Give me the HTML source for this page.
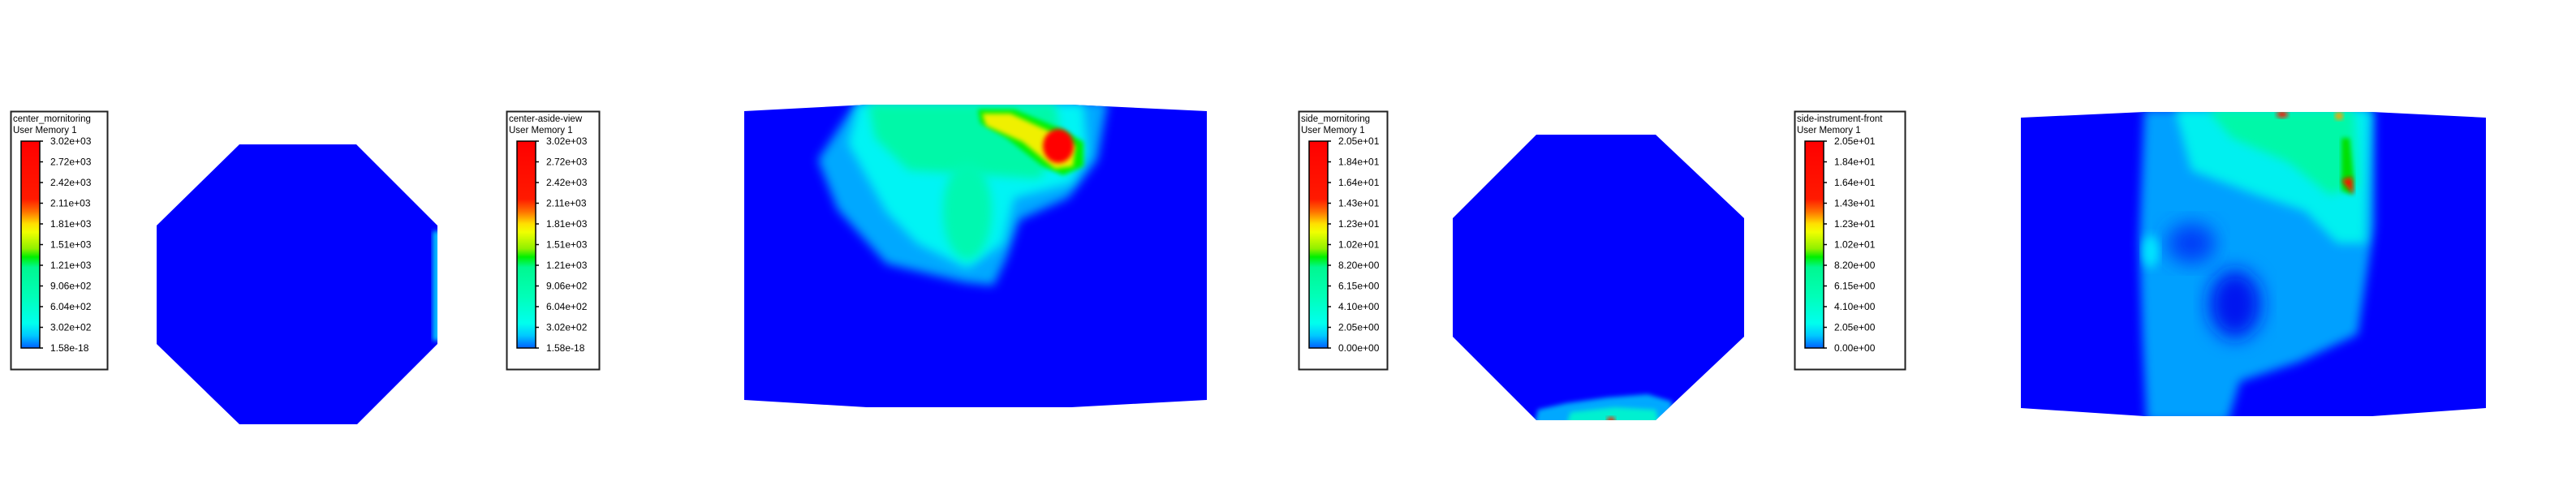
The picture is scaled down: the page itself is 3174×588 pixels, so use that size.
<!DOCTYPE html>
<html><head><meta charset="utf-8">
<style>
html,body{margin:0;padding:0;background:#fff;}
body{width:3174px;height:588px;position:relative;overflow:hidden;font-family:"Liberation Sans",sans-serif;}
svg{position:absolute;left:0;top:0;}
</style></head>
<body>
<svg id="chart" width="3174" height="588" viewBox="0 0 3174 588">
<defs>
<linearGradient id="cbar" x1="0" y1="0" x2="0" y2="1">
<stop offset="0" stop-color="#ff0000"/>
<stop offset="0.28" stop-color="#ff1a00"/>
<stop offset="0.34" stop-color="#ff7000"/>
<stop offset="0.40" stop-color="#ffe000"/>
<stop offset="0.44" stop-color="#f0ff00"/>
<stop offset="0.52" stop-color="#90f000"/>
<stop offset="0.56" stop-color="#00f000"/>
<stop offset="0.61" stop-color="#00f890"/>
<stop offset="0.75" stop-color="#00ffb8"/>
<stop offset="0.88" stop-color="#00ffee"/>
<stop offset="0.94" stop-color="#00c8ff"/>
<stop offset="1" stop-color="#0060ff"/>
</linearGradient>
<filter id="bl" x="-20%" y="-20%" width="140%" height="140%"><feGaussianBlur stdDeviation="6"/></filter>
<filter id="bl3" x="-30%" y="-30%" width="160%" height="160%"><feGaussianBlur stdDeviation="12"/></filter>
<filter id="bl2" x="-20%" y="-20%" width="140%" height="140%"><feGaussianBlur stdDeviation="3"/></filter>
<clipPath id="c2"><polygon points="917,137 1068,129 1320,129 1487,137 1487,493 1320,502 1068,502 917,493"/></clipPath>
<clipPath id="c3"><polygon points="1893,166 2040,166 2149,269 2149,415 2040,518 1893,518 1790,415 1790,269"/></clipPath>
<clipPath id="c4"><polygon points="2490,145 2642,138 2923,138 3063,145 3063,503 2923,513 2642,513 2490,503"/></clipPath>
<clipPath id="c1"><polygon points="295,178 439,178 539,278 539,424 440,523 295,523 193,424 193,278"/></clipPath>
</defs>
<g id="legends"></g>

<g>
<polygon points="295,178 439,178 539,278 539,424 440,523 295,523 193,424 193,278" fill="#0000ff"/>
<g clip-path="url(#c1)"><rect x="533" y="285" width="10" height="135" fill="#00c0ff" filter="url(#bl2)"/></g>
</g>

<g>
<polygon points="917,137 1068,129 1320,129 1487,137 1487,493 1320,502 1068,502 917,493" fill="#0000ff"/>
<g clip-path="url(#c2)">
<polygon filter="url(#bl)" fill="#00a8ff" points="1055,125 1365,125 1352,197 1316,244 1256,271 1240,318 1224,352 1188,348 1092,325 1068,298 1032,258 1008,197"/>
<polygon filter="url(#bl)" fill="#00f4f4" points="1058,128 1335,128 1340,190 1320,226 1250,244 1236,300 1192,331 1130,300 1092,261 1045,177"/>
<polygon filter="url(#bl)" fill="#00f8a8" points="1070,128 1300,128 1310,180 1280,220 1200,215 1120,210 1078,170"/>
<ellipse filter="url(#bl)" fill="#00f8b0" cx="1192" cy="260" rx="30" ry="60"/>
<polygon filter="url(#bl2)" fill="#00f000" points="1205,135 1250,135 1310,160 1335,175 1335,205 1310,216 1285,205 1240,170 1208,152"/>
<polygon filter="url(#bl2)" fill="#f0f000" points="1210,140 1245,140 1300,165 1325,180 1322,205 1300,208 1260,175 1215,155"/>
<ellipse filter="url(#bl2)" fill="#ff0000" cx="1304" cy="180" rx="19" ry="21"/>
</g>
</g>

<g>
<polygon points="1893,166 2040,166 2149,269 2149,415 2040,518 1893,518 1790,415 1790,269" fill="#0000ff"/>
<g clip-path="url(#c3)">
<polygon filter="url(#bl2)" fill="#00a8ff" points="1895,505 1930,497 1980,490 2030,486 2060,495 2060,525 1890,525"/>
<polygon filter="url(#bl2)" fill="#00f0d0" points="1935,508 1990,502 2040,505 2045,525 1930,525"/>
<ellipse filter="url(#bl2)" fill="#ff2000" cx="1985" cy="518" rx="5" ry="4"/>
</g>
</g>

<g>
<polygon points="2490,145 2642,138 2923,138 3063,145 3063,503 2923,513 2642,513 2490,503" fill="#0000ff"/>
<g clip-path="url(#c4)">
<polygon filter="url(#bl)" fill="#00a0ff" points="2642,135 2925,135 2925,280 2905,412 2833,446 2760,470 2745,520 2645,520 2640,420 2636,300"/>
<polygon filter="url(#bl)" fill="#00f0f0" points="2680,135 2920,135 2915,300 2880,300 2840,260 2780,240 2700,210"/>
<polygon filter="url(#bl)" fill="#00f8a8" points="2720,135 2900,135 2905,230 2870,240 2820,200 2750,170"/>
<ellipse filter="url(#bl3)" fill="#0018f0" cx="2754" cy="375" rx="32" ry="42"/>
<ellipse filter="url(#bl3)" fill="#0040f8" cx="2700" cy="300" rx="30" ry="25"/>
<ellipse filter="url(#bl)" fill="#00e8ff" cx="2650" cy="310" rx="10" ry="20"/>
<polygon filter="url(#bl2)" fill="#00e000" points="2885,170 2895,170 2900,220 2898,240 2885,235"/>
<polygon filter="url(#bl2)" fill="#ff1000" points="2885,222 2898,218 2900,240"/>
<ellipse filter="url(#bl2)" fill="#ff1000" cx="2812" cy="141" rx="7" ry="4"/>
<ellipse filter="url(#bl2)" fill="#ffa000" cx="2882" cy="143" rx="5" ry="5"/>
</g>
</g>
</svg>
<script>
const legendTitles1 = ["center_mornitoring", "center-aside-view", "side_mornitoring", "side-instrument-front"];
const tickLabelsA = ["3.02e+03","2.72e+03","2.42e+03","2.11e+03","1.81e+03","1.51e+03","1.21e+03","9.06e+02","6.04e+02","3.02e+02","1.58e-18"];
const tickLabelsB = ["2.05e+01","1.84e+01","1.64e+01","1.43e+01","1.23e+01","1.02e+01","8.20e+00","6.15e+00","4.10e+00","2.05e+00","0.00e+00"];
const legendTicks = [tickLabelsA, tickLabelsA, tickLabelsB, tickLabelsB];
const boxX = [13, 624, 1600, 2211];
const boxW = [119, 114, 109, 136];
const NS = "http://www.w3.org/2000/svg";
const g = document.getElementById("legends");
function mk(tag, attrs){const e=document.createElementNS(NS,tag);for(const k in attrs)e.setAttribute(k,attrs[k]);return e;}
for (let i=0;i<4;i++){
  const x=boxX[i], y=137, w=boxW[i], h=318;
  const lg=mk("g",{});
  
  
  const box=mk("rect",{x:x+0.5,y:y+0.5,width:w,height:h,fill:"#fff",stroke:"#222","stroke-width":2});
  lg.appendChild(box);
  const t1=mk("text",{x:x+3,y:y+13,"font-size":11.5,fill:"#000"});t1.textContent=legendTitles1[i];
  
  
  lg.appendChild(t1);
  const t2=mk("text",{x:x+3,y:y+27,"font-size":11.5,fill:"#000"});t2.textContent="User Memory 1";
  
  
  lg.appendChild(t2);
  const by=174, bh=255, bx=x+13, bw=23;
  const bar=mk("rect",{x:bx,y:by,width:bw,height:bh,fill:"url(#cbar)",stroke:"#000","stroke-width":1.5});
  
  
  lg.appendChild(bar);
  const labs=legendTicks[i];
  labs.forEach((lab,j)=>{
    const ty=by+bh*j/(labs.length-1);
    lg.appendChild(mk("line",{x1:bx+bw,x2:bx+bw+4,y1:ty,y2:ty,stroke:"#000","stroke-width":1.5}));
    const tt=mk("text",{x:bx+bw+13,y:ty+4,"font-size":12,fill:"#000"});
    tt.textContent=lab;
    
    
    lg.appendChild(tt);
  });
  g.appendChild(lg);
}
</script>
</body></html>
